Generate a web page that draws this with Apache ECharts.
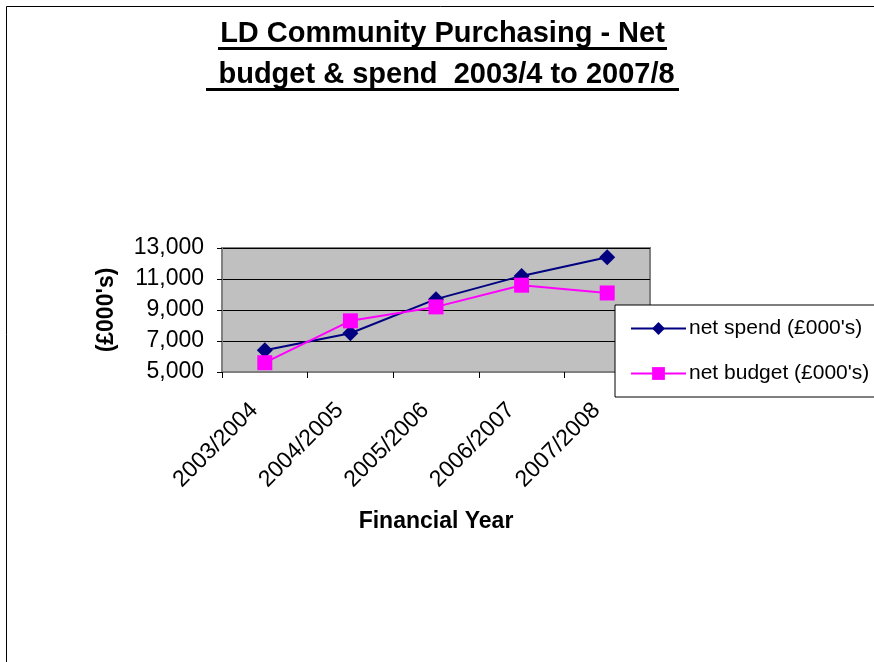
<!DOCTYPE html>
<html>
<head>
<meta charset="utf-8">
<script src="https://cdn.jsdelivr.net/npm/echarts@6/dist/echarts.min.js"></script>
<style>
html,body{margin:0;padding:0;background:#fff;}
#chart{width:874px;height:662px;}
</style>
</head>
<body>
<div id="chart"></div>
<script>
const categories = ['2003/2004', '2004/2005', '2005/2006', '2006/2007', '2007/2008'];
const netSpend = [6400, 7500, 9700, 11200, 12400];
const netBudget = [5600, 8300, 9200, 10600, 10100];
const yTicks = { min: 5000, max: 13000, step: 2000 };
const titleLines = ['LD Community Purchasing - Net', ' budget & spend  2003/4 to 2007/8'];

const FONT = '"Liberation Sans", Arial, sans-serif';
const chart = echarts.init(document.getElementById('chart'));
chart.setOption({
  backgroundColor: '#ffffff',
  animation: false,
  textStyle: { fontFamily: FONT },
  graphic: [
    { type: 'rect', shape: { x: 6.5, y: 6.5, width: 1000, height: 1000 }, style: { fill: 'none', stroke: '#000', lineWidth: 1 }, silent: true },
    { type: 'text', x: 442.5, y: 34, style: { text: titleLines[0], font: 'bold 29px ' + FONT, textAlign: 'center', textVerticalAlign: 'middle', fill: '#000' } },
    { type: 'rect', shape: { x: 218, y: 47, width: 449, height: 3 }, style: { fill: '#000' } },
    { type: 'text', x: 442.5, y: 75, style: { text: titleLines[1], font: 'bold 29px ' + FONT, textAlign: 'center', textVerticalAlign: 'middle', fill: '#000' } },
    { type: 'rect', shape: { x: 206, y: 88, width: 473, height: 3 }, style: { fill: '#000' } }
  ],
  grid: { left: 222, top: 248, width: 428, height: 124, show: true, backgroundColor: '#C0C0C0', borderColor: '#808080', borderWidth: 2, containLabel: false },
  legend: {
    left: 615, top: 305,
    orient: 'vertical',
    padding: [13, 40, 13, 15],
    itemGap: 24,
    itemWidth: 55, itemHeight: 16,
    backgroundColor: '#fff',
    borderColor: '#000', borderWidth: 1,
    textStyle: { fontSize: 21, color: '#000', fontFamily: FONT, padding: [0, 0, 0, -2] },
    data: ['net spend (£000\'s)', 'net budget (£000\'s)']
  },
  xAxis: {
    type: 'category',
    data: categories,
    boundaryGap: true,
    name: 'Financial Year',
    nameLocation: 'middle',
    nameGap: 138,
    nameTextStyle: { fontSize: 23, fontWeight: 'bold', color: '#000', fontFamily: FONT },
    axisLine: { lineStyle: { color: '#808080', width: 2 } },
    axisTick: { show: true, length: 6, alignWithLabel: false, lineStyle: { color: '#000' } },
    axisLabel: { rotate: 45, fontSize: 23, color: '#000', margin: 24, padding: [0, 15, 0, 0], fontFamily: FONT, interval: 0 }
  },
  yAxis: {
    type: 'value',
    min: yTicks.min, max: yTicks.max, interval: yTicks.step,
    name: '(£000\'s)',
    nameLocation: 'middle',
    nameGap: 104,
    nameTextStyle: { fontSize: 23, fontWeight: 'bold', color: '#000', fontFamily: FONT },
    axisLine: { show: true, lineStyle: { color: '#808080', width: 2 } },
    axisTick: { show: true, length: 5, lineStyle: { color: '#000' } },
    axisLabel: { fontSize: 23, color: '#000', margin: 18, fontFamily: FONT,
      formatter: v => v.toLocaleString('en-GB') },
    splitLine: { show: true, lineStyle: { color: '#000', width: 1 } }
  },
  series: [
    {
      name: 'net spend (£000\'s)', type: 'line', data: netSpend,
      symbol: 'diamond', symbolSize: 16,
      lineStyle: { color: '#000080', width: 2 },
      itemStyle: { color: '#000080' }
    },
    {
      name: 'net budget (£000\'s)', type: 'line', data: netBudget,
      symbol: 'rect', symbolSize: 15,
      lineStyle: { color: '#FF00FF', width: 2 },
      itemStyle: { color: '#FF00FF' }
    }
  ]
});
</script>
</body>
</html>
